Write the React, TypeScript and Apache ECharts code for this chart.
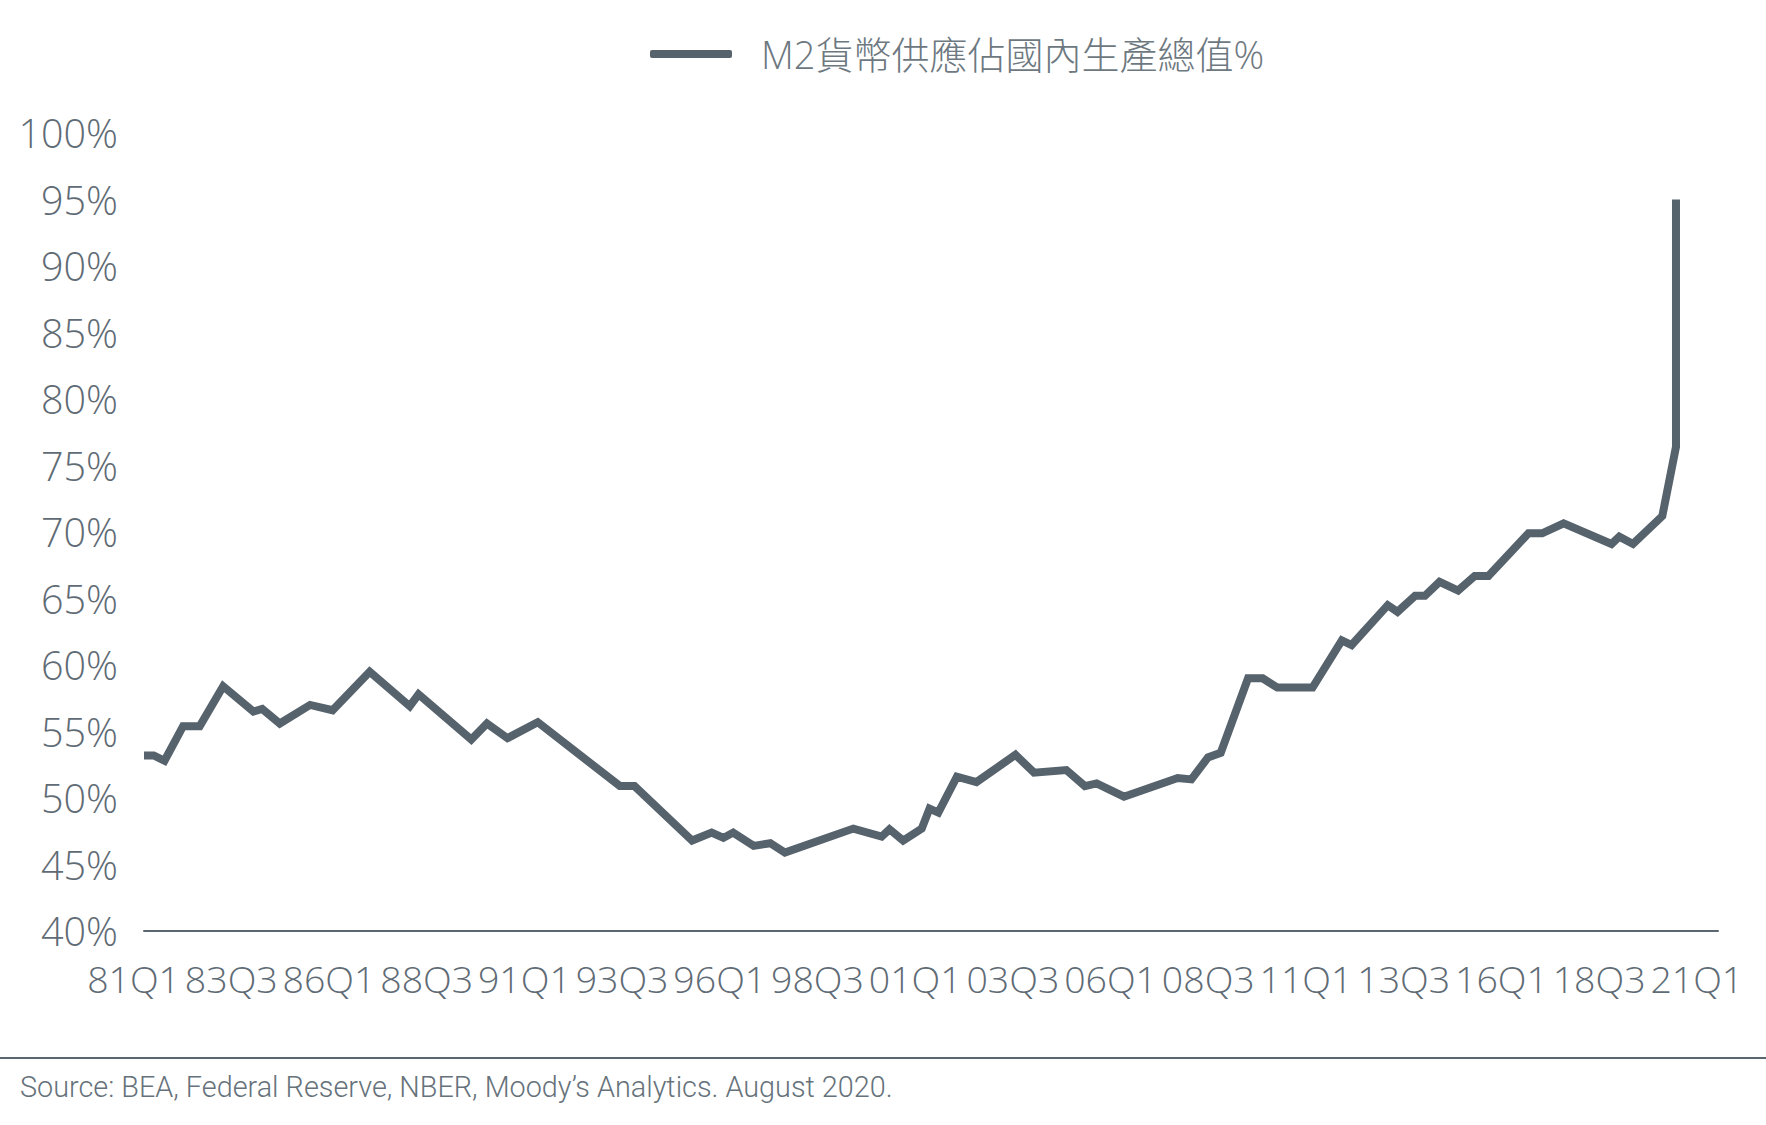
import React, { useEffect, useRef } from "react";
import * as echarts from "echarts";

// Quarter index counted from 81Q1 (0) for each vertex of the plotted line
const quarterPos = [0, 1.0, 2.1, 4.0, 5.7, 8.1, 11.2, 12.1, 13.9, 17.0, 19.3, 23.1, 27.2, 28.1, 33.5, 35.1, 37.2, 40.3, 48.7, 50.2, 56.1, 58.1, 59.3, 60.3, 62.4, 64.1, 65.6, 72.6, 75.5, 76.3, 77.7, 79.6, 80.4, 81.3, 83.2, 85.2, 89.2, 91.1, 94.4, 96.3, 97.5, 100.3, 105.8, 107.2, 108.9, 110.2, 113.0, 114.5, 116.0, 119.6, 122.6, 123.6, 127.3, 128.3, 130.1, 131.1, 132.6, 134.5, 136.2, 137.6, 141.7, 143.1, 145.3, 150.2, 151.0, 152.4, 155.4, 156.8, 156.8];
// M2 money supply as % of GDP at each vertex
const m2Ratio = [53.2, 53.2, 52.8, 55.4, 55.4, 58.4, 56.5, 56.7, 55.6, 57.0, 56.6, 59.5, 56.9, 57.8, 54.4, 55.6, 54.5, 55.7, 50.9, 50.9, 46.8, 47.4, 47.0, 47.4, 46.4, 46.6, 45.9, 47.7, 47.1, 47.65, 46.8, 47.7, 49.2, 48.9, 51.6, 51.2, 53.25, 51.9, 52.1, 50.9, 51.1, 50.1, 51.5, 51.4, 53.05, 53.4, 59.0, 59.0, 58.3, 58.3, 61.85, 61.5, 64.5, 64.0, 65.2, 65.2, 66.25, 65.6, 66.7, 66.7, 69.9, 69.9, 70.65, 69.1, 69.65, 69.1, 71.2, 76.4, 95.0];
// X tick labels, one every 10 quarters
const xTickLabels = ["81Q1", "83Q3", "86Q1", "88Q3", "91Q1", "93Q3", "96Q1", "98Q3", "01Q1", "03Q3", "06Q1", "08Q3", "11Q1", "13Q3", "16Q1", "18Q3", "21Q1"];
const seriesName = "M2貨幣供應佔國內生產總值%";
const sourceText = "Source: BEA, Federal Reserve, NBER, Moody\u2019s Analytics. August 2020.";

const LINE = "#56626c";
const TEXT = "#5f6b75";
const FONT = "'Open Sans', 'Noto Sans CJK TC', sans-serif";

export default function App() {
  const ref = useRef<HTMLDivElement>(null);
  useEffect(() => {
    if (!ref.current) return;
    const chart = echarts.init(ref.current, undefined, { renderer: "svg" });
    const data = quarterPos.map((q, i) => [q, m2Ratio[i]]);
    chart.setOption({
      animation: false,
      backgroundColor: "#ffffff",
      textStyle: { fontFamily: FONT },
      grid: { left: 144, right: 48, top: 133, bottom: 194, containLabel: false },
      legend: {
        show: true,
        left: 645,
        top: 29,
        icon: "roundRect",
        itemWidth: 82,
        itemHeight: 8,
        data: [seriesName],
        textStyle: {
          fontFamily: FONT,
          fontSize: 38,
          fontWeight: 300,
          color: "#6d7880",
          lineHeight: 40,
          padding: [0, 0, 0, 24],
        },
      },
      xAxis: {
        type: "value",
        min: 0,
        max: 161.1,
        interval: 10,
        axisLine: { show: true, lineStyle: { color: "#5b6770", width: 2 } },
        axisTick: { show: false },
        splitLine: { show: false },
        axisLabel: {
          color: TEXT,
          fontSize: 37.5,
          fontWeight: 300,
          fontFamily: FONT,
          margin: 27,
          lineHeight: 40,
          showMinLabel: true,
          showMaxLabel: false,
          hideOverlap: false,
          formatter: (v: number) => {
            const r = Math.round(v);
            if (Math.abs(v - r) > 1e-6 || r % 10 !== 0) return "";
            const t = xTickLabels[r / 10];
            return t ? `{q|${t}}` : "";
          },
          rich: {
            q: {
              width: 72,
              align: "right",
              color: TEXT,
              fontSize: 37.5,
              fontWeight: 300,
              fontFamily: FONT,
              lineHeight: 40,
            },
          },
        },
      },
      yAxis: {
        type: "value",
        min: 40,
        max: 100,
        interval: 5,
        axisLine: { show: false },
        axisTick: { show: false },
        splitLine: { show: false },
        axisLabel: {
          color: TEXT,
          fontSize: 39.5,
          fontWeight: 300,
          fontFamily: FONT,
          margin: 26,
          formatter: "{value}%",
        },
      },
      series: [
        {
          name: seriesName,
          type: "line",
          data,
          showSymbol: false,
          symbol: "none",
          color: LINE,
          lineStyle: { color: LINE, width: 8, join: "miter", cap: "butt" },
          itemStyle: { color: LINE },
        },
      ],
      graphic: [
        {
          type: "line",
          shape: { x1: 0, y1: 1058, x2: 1766, y2: 1058 },
          style: { stroke: "#5b6770", lineWidth: 2 },
        },
        {
          type: "text",
          left: 20,
          top: 1072,
          style: {
            text: sourceText,
            fontFamily: "Roboto, sans-serif",
            fontSize: 28.8,
            fontWeight: 300,
            fill: "#66727b",
          },
        },
      ],
    });
    return () => chart.dispose();
  }, []);
  return (
    <div
      ref={ref}
      style={{ position: "absolute", left: 0, top: 0, width: 1766, height: 1125, background: "#fff" }}
    />
  );
}
